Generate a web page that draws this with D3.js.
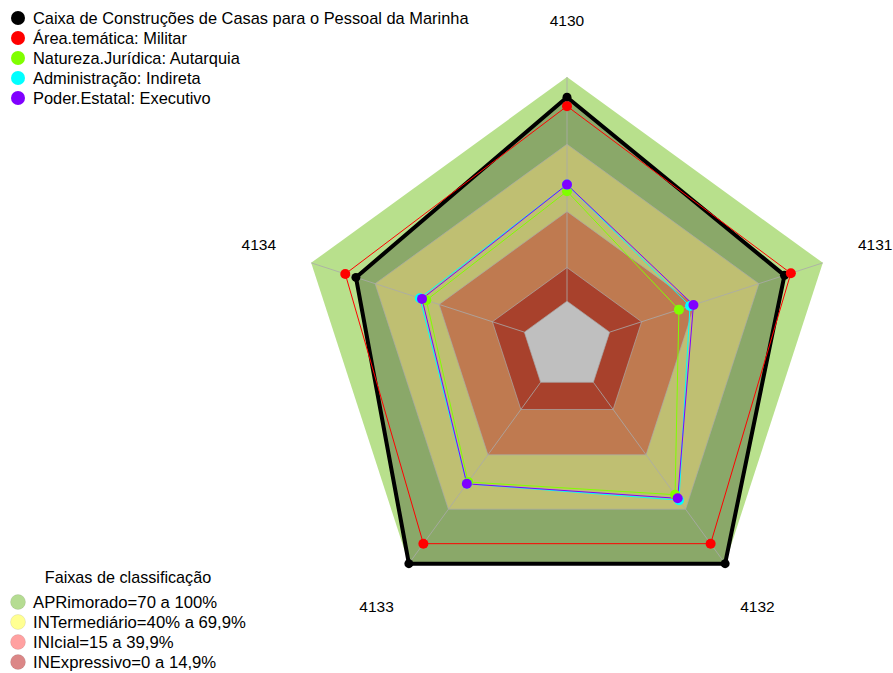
<!DOCTYPE html>
<html><head><meta charset="utf-8">
<script src="https://cdn.jsdelivr.net/npm/d3@7"></script>
<style>body{margin:0;background:#fff}svg{display:block}text{font-family:"Liberation Sans",Arial,sans-serif}</style>
</head><body><svg id="c" width="893" height="673"></svg>
<script>
const axes = ["4130","4131","4132","4133","4134"];
const seriesNames = ["Caixa de Construções de Casas para o Pessoal da Marinha","Área.temática: Militar","Natureza.Jurídica: Autarquia","Administração: Indireta","Poder.Estatal: Executivo"];
const seriesColors = ["#000000","#ff0000","#80ff00","#00ffff","#8000ff"];
const valCaixa = [91, 82, 100, 100, 79];
const valMilitar = [87, 85, 89, 89, 84];
const valAutarquia = [49, 32.5, 62, 55, 46];
const valIndireta = [52, 37.7, 65, 56, 49];
const valExecutivo = [52, 39.3, 64, 56, 48];
const bandNames = ["APRimorado=70 a 100%","INTermediário=40% a 69,9%","INIcial=15 a 39,9%","INExpressivo=0 a 14,9%"];
const bandUpper = [100, 70, 40, 15];
const bandFill = ["#b8e08c","#ffff98","#ffa36b","#e0573b"];
const bandLegend = ["rgba(150,205,100,0.7)","rgba(255,255,100,0.7)","rgba(255,110,110,0.65)","rgba(200,70,70,0.65)"];
const ringValues = [0, 15, 40, 70];

const svg = d3.select("#c");
const cx = 567, cy = 346;
const r = d3.scaleLinear().domain([-20, 100]).range([0, 269]);
const ang = d3.scalePoint().domain(axes).range([0, 288]);
function pt(a, v){ const t = (ang(a) - 90) * Math.PI/180; return [cx + r(v)*Math.cos(t), cy + r(v)*Math.sin(t)]; }
function poly(vals){ return axes.map((a,i)=>pt(a, vals[i])); }
const line = d3.line().curve(d3.curveLinearClosed);
const g = svg.append("g");

bandUpper.forEach((u,i)=>{
  g.append("path").attr("d", line(axes.map(a=>pt(a,u)))).attr("fill", bandFill[i]);
});
g.append("path").attr("d", line(axes.map(a=>pt(a,0)))).attr("fill", "#fff");

g.append("path").attr("d", line(poly(valCaixa))).attr("fill","rgba(0,0,0,0.25)");

ringValues.forEach(v=>{
  g.append("path").attr("d", line(axes.map(a=>pt(a,v)))).attr("fill","none").attr("stroke","rgba(170,170,170,0.7)").attr("stroke-width",1);
});
axes.forEach(a=>{
  const p0 = pt(a,0), p1 = pt(a,100);
  g.append("line").attr("x1",p0[0]).attr("y1",p0[1]).attr("x2",p1[0]).attr("y2",p1[1]).attr("stroke","rgba(170,170,170,0.8)").attr("stroke-width",1);
});

axes.forEach(a=>{
  const t = (ang(a)-90)*Math.PI/180, rr = 324;
  g.append("text").attr("x", cx + rr*Math.cos(t)).attr("y", cy + rr*Math.sin(t)).attr("text-anchor","middle").attr("dominant-baseline","middle").attr("font-size",15.5).attr("fill","#000").text(a);
});

const allVals = [valCaixa, valMilitar, valAutarquia, valIndireta, valExecutivo];
allVals.forEach((vals,i)=>{
  g.append("path").attr("d", line(poly(vals))).attr("fill","none").attr("stroke", seriesColors[i]).attr("stroke-width", i===0?4:1).attr("stroke-linejoin","round");
});
allVals.forEach((vals,i)=>{
  poly(vals).forEach(p=>{
    g.append("circle").attr("cx",p[0]).attr("cy",p[1]).attr("r", i===0?4.5:5).attr("fill", seriesColors[i]);
  });
});

seriesNames.forEach((n,i)=>{
  const y = 18 + i*20;
  svg.append("circle").attr("cx",18).attr("cy",y).attr("r",7).attr("fill",seriesColors[i]);
  svg.append("text").attr("x",33).attr("y",y).attr("dominant-baseline","central").attr("font-size",16.4).text(n);
});

svg.append("text").attr("x",128).attr("y",577).attr("text-anchor","middle").attr("dominant-baseline","central").attr("font-size",16.2).text("Faixas de classificação");
bandNames.forEach((n,i)=>{
  const y = 602 + i*20;
  svg.append("circle").attr("cx",18).attr("cy",y).attr("r",7.5).attr("fill",bandLegend[i]).attr("stroke","rgba(0,0,0,0.08)");
  svg.append("text").attr("x",33).attr("y",y).attr("dominant-baseline","central").attr("font-size",16.7).text(n);
});
</script></body></html>
